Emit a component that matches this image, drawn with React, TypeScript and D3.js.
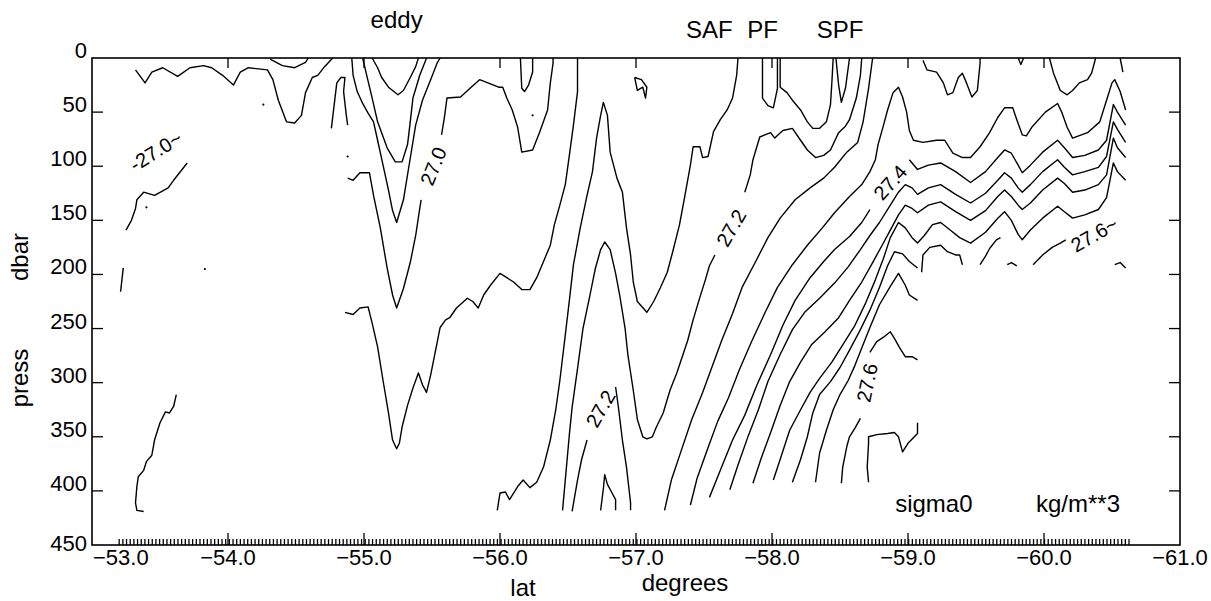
import React, { useEffect, useRef } from "react";
import * as d3 from "d3";

type Pt = [number, number]; // [lat, press]

const latTicks = [-53, -54, -55, -56, -57, -58, -59, -60, -61];
const pressTicks = [0, 50, 100, 150, 200, 250, 300, 350, 400, 450];

// --- contour polylines (lat, dbar) ---
const surfaceWest: Pt[] = [[-53.32,11],[-53.39,23],[-53.44,13],[-53.52,9],[-53.63,17],[-53.72,9],[-53.82,7],[-53.88,9],[-53.96,16],[-54.04,25],[-54.09,13],[-54.15,9],[-54.29,11],[-54.33,20],[-54.37,39],[-54.43,59],[-54.49,60],[-54.54,53],[-54.57,32],[-54.62,18],[-54.66,16],[-54.71,8],[-54.77,0]];
const surfaceDip: Pt[] = [[-54.31,1],[-54.40,7],[-54.49,9],[-54.57,4],[-54.59,0]];
const westSlope: Pt[] = [[-53.25,159],[-53.29,150],[-53.32,139],[-53.33,131],[-53.38,124],[-53.46,127],[-53.56,120],[-53.60,113],[-53.70,97]];
const westStub: Pt[] = [[-53.23,194],[-53.21,216]];
const westDeep: Pt[] = [[-53.62,311],[-53.60,322],[-53.57,328],[-53.54,327],[-53.50,337],[-53.46,353],[-53.44,367],[-53.40,373],[-53.38,381],[-53.34,387],[-53.33,396],[-53.32,411],[-53.33,418],[-53.38,419]];
const eddyEdge: Pt[] = [[-54.76,65],[-54.80,23],[-54.83,18],[-54.86,18],[-54.85,31],[-54.87,53],[-54.88,62]];

const eddy1: Pt[] = [[-55.06,0],[-55.10,9],[-55.13,18],[-55.18,27],[-55.25,34],[-55.29,30],[-55.34,18],[-55.38,8],[-55.40,0]];
const eddy2: Pt[] = [[-54.99,0],[-55.02,16],[-55.06,37],[-55.10,59],[-55.17,83],[-55.23,96],[-55.28,96],[-55.32,80],[-55.34,59],[-55.36,37],[-55.41,16],[-55.46,0]];
const eddy3: Pt[] = [[-54.91,0],[-54.92,16],[-54.95,31],[-54.99,42],[-55.03,51],[-55.07,59],[-55.10,76],[-55.14,99],[-55.18,122],[-55.21,141],[-55.24,152],[-55.29,131],[-55.32,108],[-55.35,85],[-55.38,62],[-55.43,39],[-55.49,20],[-55.54,4],[-55.56,0]];
const eddy4Low: Pt[] = [[-54.88,111],[-54.92,113],[-54.97,106],[-55.04,106],[-55.07,127],[-55.12,157],[-55.17,194],[-55.21,219],[-55.24,231],[-55.29,213],[-55.34,189],[-55.38,164],[-55.41,139],[-55.42,131]];
const eddy4High: Pt[] = [[-55.57,71],[-55.59,56],[-55.61,37],[-55.71,36],[-55.78,28],[-55.85,20],[-55.93,24],[-55.99,27],[-56.02,27],[-56.05,37],[-56.09,48],[-56.13,64],[-56.16,87],[-56.24,85],[-56.29,69],[-56.35,48],[-56.37,23],[-56.39,5],[-56.39,0]];
const eddy5: Pt[] = [[-54.86,235],[-54.92,237],[-54.97,231],[-55.03,230],[-55.06,245],[-55.10,267],[-55.14,298],[-55.18,328],[-55.21,353],[-55.24,361],[-55.26,356],[-55.28,341],[-55.32,321],[-55.36,305],[-55.40,291],[-55.43,302],[-55.46,309],[-55.49,293],[-55.52,274],[-55.56,249],[-55.60,242],[-55.63,240],[-55.68,231],[-55.76,222],[-55.80,225],[-55.84,231],[-55.88,219],[-55.93,210],[-56.00,199],[-56.05,203],[-56.10,207],[-56.16,214],[-56.22,214],[-56.27,203],[-56.32,188],[-56.37,173],[-56.40,154],[-56.44,136],[-56.48,117],[-56.51,90],[-56.54,62],[-56.57,31],[-56.57,0]];
const smallV: Pt[] = [[-56.15,0],[-56.16,28],[-56.18,31],[-56.21,25],[-56.24,13],[-56.24,0]];
const squiggle: Pt[] = [[-56.99,18],[-57.01,30],[-57.05,27],[-57.07,37],[-57.08,27],[-57.04,20],[-56.99,18]];

const arch1: Pt[] = [[-55.98,418],[-56.00,402],[-56.04,401],[-56.07,408],[-56.13,396],[-56.17,390],[-56.22,397],[-56.27,392],[-56.32,378],[-56.37,353],[-56.41,325],[-56.44,298],[-56.48,256],[-56.51,224],[-56.54,191],[-56.59,157],[-56.64,127],[-56.68,105],[-56.71,74],[-56.74,53],[-56.76,41],[-56.79,53],[-56.81,87],[-56.86,111],[-56.90,124],[-56.93,157],[-56.96,182],[-56.98,207],[-57.01,225],[-57.08,235],[-57.13,225],[-57.18,212],[-57.23,198],[-57.27,179],[-57.32,154],[-57.36,127],[-57.40,99],[-57.42,82],[-57.47,82],[-57.49,92],[-57.53,91],[-57.57,68],[-57.62,57],[-57.67,48],[-57.71,37],[-57.74,16],[-57.75,0]];
const arch2Low: Pt[] = [[-56.46,418],[-56.48,390],[-56.50,362],[-56.51,348],[-56.53,323],[-56.57,287],[-56.61,250],[-56.66,220],[-56.70,195],[-56.74,177],[-56.77,170],[-56.81,177],[-56.85,199],[-56.88,219],[-56.92,250],[-56.94,274],[-56.98,307],[-57.01,334],[-57.05,350],[-57.08,352],[-57.12,350],[-57.15,341],[-57.20,328],[-57.25,307],[-57.30,291],[-57.34,276],[-57.38,261],[-57.42,242],[-57.47,221],[-57.51,205],[-57.54,192],[-57.58,182]];
const arch2High: Pt[] = [[-57.80,124],[-57.84,108],[-57.86,94],[-57.91,73],[-57.99,69],[-58.02,74],[-58.08,67],[-58.15,65],[-58.21,76],[-58.26,85],[-58.32,92],[-58.38,90],[-58.43,85],[-58.49,69],[-58.54,63],[-58.57,57],[-58.62,37],[-58.65,16],[-58.66,0]];
const arch3West: Pt[] = [[-56.53,419],[-56.57,390],[-56.60,371],[-56.64,353]];
const arch3East: Pt[] = [[-56.85,304],[-56.87,322],[-56.90,353],[-56.93,378],[-56.96,411],[-56.96,418]];
const arch4: Pt[] = [[-56.74,418],[-56.76,398],[-56.77,385],[-56.79,394],[-56.82,401],[-56.85,408],[-56.85,418]];

const pfNotch: Pt[] = [[-57.93,0],[-57.93,37],[-57.97,44],[-58.01,46],[-58.04,28],[-58.04,0]];
const pfCap: Pt[] = [[-58.06,0],[-58.06,27],[-58.11,32],[-58.15,39],[-58.21,48],[-58.26,59],[-58.30,65],[-58.35,65],[-58.40,59],[-58.43,43],[-58.44,23],[-58.45,0]];
const pfNotch2: Pt[] = [[-58.47,0],[-58.49,25],[-58.51,41],[-58.54,28],[-58.57,0]];

const band1: Pt[] = [[-57.21,418],[-57.26,390],[-57.34,360],[-57.41,334],[-57.49,309],[-57.56,285],[-57.63,261],[-57.71,236],[-57.78,212],[-57.88,188],[-57.97,166],[-58.06,148],[-58.17,131],[-58.28,120],[-58.38,111],[-58.46,101],[-58.55,87],[-58.63,78],[-58.67,59],[-58.71,28],[-58.74,0]];
const band2: Pt[] = [[-57.40,413],[-57.45,388],[-57.53,360],[-57.60,336],[-57.68,314],[-57.76,288],[-57.85,262],[-57.95,235],[-58.04,212],[-58.15,191],[-58.26,173],[-58.37,157],[-58.46,143],[-58.57,128],[-58.66,117],[-58.72,105],[-58.76,94],[-58.78,80],[-58.82,62],[-58.85,48],[-58.89,32],[-58.93,27],[-58.96,36],[-58.99,50],[-59.01,67],[-59.04,76],[-59.11,78],[-59.21,76],[-59.27,76],[-59.33,88],[-59.40,92],[-59.46,92],[-59.53,82],[-59.60,69],[-59.66,55],[-59.71,46],[-59.77,46],[-59.80,57],[-59.84,71],[-59.87,72],[-59.91,64],[-60.01,50],[-60.10,42],[-60.13,50],[-60.17,64],[-60.21,74],[-60.32,69],[-60.41,59],[-60.46,39],[-60.50,23],[-60.52,20],[-60.56,31],[-60.60,48]];
const band3Low: Pt[] = [[-57.54,406],[-57.62,381],[-57.71,353],[-57.80,330],[-57.89,302],[-57.99,274],[-58.08,247],[-58.17,224],[-58.28,203],[-58.38,188],[-58.46,177],[-58.57,165],[-58.66,152],[-58.72,140]];
const band3High: Pt[] = [[-59.01,94],[-59.07,103],[-59.15,99],[-59.24,97],[-59.35,105],[-59.46,115],[-59.57,105],[-59.66,92],[-59.71,85],[-59.76,88],[-59.81,99],[-59.84,106],[-59.90,99],[-59.99,87],[-60.10,76],[-60.15,83],[-60.21,92],[-60.30,90],[-60.40,85],[-60.46,76],[-60.51,43],[-60.54,50],[-60.60,62]];
const band4: Pt[] = [[-57.69,399],[-57.75,376],[-57.82,351],[-57.90,325],[-57.97,299],[-58.06,274],[-58.15,251],[-58.24,235],[-58.35,222],[-58.46,208],[-58.56,193],[-58.65,177],[-58.72,164],[-58.79,152],[-58.87,136],[-58.93,124],[-58.98,117],[-59.03,120],[-59.07,126],[-59.15,120],[-59.24,117],[-59.35,126],[-59.46,134],[-59.57,125],[-59.66,113],[-59.71,106],[-59.76,111],[-59.81,120],[-59.84,124],[-59.90,117],[-59.99,105],[-60.10,94],[-60.15,101],[-60.21,108],[-60.30,105],[-60.40,101],[-60.46,91],[-60.51,59],[-60.54,66],[-60.60,78]];
const band5: Pt[] = [[-57.86,393],[-57.92,370],[-57.99,346],[-58.06,321],[-58.13,299],[-58.21,281],[-58.29,265],[-58.39,253],[-58.49,240],[-58.57,224],[-58.66,207],[-58.74,189],[-58.81,173],[-58.87,159],[-58.93,145],[-58.98,136],[-59.03,139],[-59.07,143],[-59.15,136],[-59.24,133],[-59.35,142],[-59.46,150],[-59.57,141],[-59.66,128],[-59.71,122],[-59.76,128],[-59.81,136],[-59.84,140],[-59.90,134],[-59.99,122],[-60.10,111],[-60.15,116],[-60.21,124],[-60.30,122],[-60.40,117],[-60.46,108],[-60.51,74],[-60.54,83],[-60.60,92]];
const band6: Pt[] = [[-58.01,390],[-58.07,367],[-58.13,344],[-58.21,325],[-58.28,309],[-58.35,296],[-58.44,281],[-58.52,265],[-58.61,247],[-58.69,226],[-58.76,205],[-58.82,185],[-58.87,166],[-58.93,152],[-58.98,157],[-59.03,166],[-59.07,171],[-59.12,164],[-59.18,154],[-59.24,152],[-59.31,159],[-59.38,166],[-59.46,171],[-59.57,161],[-59.66,148],[-59.71,142],[-59.76,150],[-59.81,163],[-59.84,168],[-59.90,159],[-59.99,148],[-60.10,137],[-60.15,142],[-60.21,148],[-60.30,145],[-60.40,140],[-60.46,129],[-60.51,97],[-60.54,105],[-60.60,113]];
const band7: Pt[] = [[-58.15,392],[-58.21,371],[-58.26,350],[-58.30,328],[-58.35,311],[-58.43,299],[-58.50,286],[-58.57,270],[-58.65,251],[-58.72,233],[-58.79,212],[-58.85,192],[-58.90,179],[-58.96,181],[-59.01,188],[-59.07,194]];
const band8: Pt[] = [[-58.32,392],[-58.35,365],[-58.40,344],[-58.45,325],[-58.50,311],[-58.56,298],[-58.61,284],[-58.66,268],[-58.72,249],[-58.79,228],[-58.87,211],[-58.93,199],[-58.98,210],[-59.01,219],[-59.07,224]];
const iso276Low: Pt[] = [[-58.51,393],[-58.52,378],[-58.55,359],[-58.57,350],[-58.61,342],[-58.65,333]];
const iso276High: Pt[] = [[-58.72,272],[-58.77,262],[-58.82,258],[-58.87,253],[-58.90,259],[-58.94,268],[-58.98,276],[-59.03,276],[-59.07,279]];
const deepStub: Pt[] = [[-58.71,392],[-58.70,378],[-58.71,356],[-58.71,350],[-58.77,348],[-58.85,347],[-58.90,346],[-58.93,350],[-58.96,364],[-59.00,356],[-59.07,347],[-59.07,337]];

const edge1: Pt[] = [[-59.10,198],[-59.11,182],[-59.16,175],[-59.24,173],[-59.29,179],[-59.35,182],[-59.38,182],[-59.40,191]];
const edge2: Pt[] = [[-59.53,191],[-59.57,183],[-59.60,176],[-59.65,168],[-59.68,166]];
const edge3: Pt[] = [[-59.73,191],[-59.76,189],[-59.80,192]];
const edge4: Pt[] = [[-59.92,191],[-59.99,182],[-60.06,175],[-60.12,171],[-60.16,168]];
const edge5: Pt[] = [[-60.52,191],[-60.56,189],[-60.60,194]];

const surfaceEast1: Pt[] = [[-59.11,2],[-59.14,11],[-59.21,13],[-59.26,23],[-59.29,34],[-59.33,32],[-59.37,18],[-59.40,14],[-59.43,23],[-59.47,36],[-59.51,30],[-59.53,5],[-59.53,0]];
const surfaceEast2: Pt[] = [[-59.81,0],[-59.83,6],[-59.85,0]];
const surfaceEast3: Pt[] = [[-60.04,0],[-60.07,14],[-60.12,30],[-60.17,34],[-60.21,30],[-60.26,23],[-60.32,20],[-60.35,14],[-60.38,0]];
const surfaceEast4: Pt[] = [[-60.56,0],[-60.58,13]];

// isolated single-point closures (the little dots)
const specks: Pt[] = [[-54.26,43],[-53.40,138],[-53.83,195],[-54.88,91],[-56.24,53]];

const contourLines: Pt[][] = [
  surfaceWest, surfaceDip, westSlope, westStub, westDeep, eddyEdge,
  eddy1, eddy2, eddy3, eddy4Low, eddy4High, eddy5, smallV, squiggle,
  arch1, arch2Low, arch2High, arch3West, arch3East, arch4,
  pfNotch, pfCap, pfNotch2,
  band1, band2, band3Low, band3High, band4, band5, band6, band7, band8,
  iso276Low, iso276High, deepStub,
  edge1, edge2, edge3, edge4, edge5,
  surfaceEast1, surfaceEast2, surfaceEast3, surfaceEast4,
];

const labelTexts = ["-27.0~", "27.0", "27.2", "27.2", "27.4", "27.6", "27.6~"];
const labelLats = [-53.47, -55.51, -56.74, -57.70, -58.87, -58.70, -60.37];
const labelPress = [86, 100, 324, 157, 115, 300, 163];

const frontNames = ["eddy", "SAF", "PF", "SPF"];
const frontLats = [-55.24, -57.54, -57.93, -58.50];

const FONT = "'Liberation Sans', Arial, Helvetica, sans-serif";

const App = () => {
  const ref = useRef<SVGSVGElement>(null);

  useEffect(() => {
    const svg = d3.select(ref.current);
    svg.selectAll("*").remove();

    const x = d3.scaleLinear().domain([-53, -61]).range([92, 1180]);
    const y = d3.scaleLinear().domain([0, 450]).range([58, 545]);
    const [x0, x1] = x.range();
    const [y0, y1] = y.range();

    svg.append("rect").attr("width", 1211).attr("height", 601).attr("fill", "#fff");

    // contours
    const line = d3.line<Pt>().x((d) => x(d[0])).y((d) => y(d[1]));
    svg.append("g")
      .selectAll("path")
      .data(contourLines)
      .enter()
      .append("path")
      .attr("d", line)
      .attr("fill", "none")
      .attr("stroke", "#000")
      .attr("stroke-width", 1.4)
      .attr("stroke-linejoin", "round");

    svg.append("g")
      .selectAll("circle")
      .data(specks)
      .enter()
      .append("circle")
      .attr("cx", (d) => x(d[0]))
      .attr("cy", (d) => y(d[1]))
      .attr("r", 1.1)
      .attr("fill", "#000");

    // contour labels
    const angles = [-32, -68, -60, -60, -48, -78, -30];
    svg.append("g")
      .selectAll("text")
      .data(labelTexts)
      .enter()
      .append("text")
      .attr("transform", (d, i) => `translate(${x(labelLats[i])},${y(labelPress[i])}) rotate(${angles[i]})`)
      .attr("text-anchor", "middle")
      .attr("dominant-baseline", "central")
      .attr("font-family", FONT)
      .attr("font-size", 20)
      .text((d) => d);

    // frame
    svg.append("rect")
      .attr("x", x0).attr("y", y0)
      .attr("width", x1 - x0).attr("height", y1 - y0)
      .attr("fill", "none").attr("stroke", "#000").attr("stroke-width", 1.6);

    const ax = svg.append("g").attr("stroke", "#000").attr("stroke-width", 1.3);
    // bottom minor ruler
    ax.selectAll("line.minor")
      .data(d3.range(-53.2, -60.64, -0.027))
      .enter().append("line")
      .attr("x1", (d) => x(d)).attr("x2", (d) => x(d))
      .attr("y1", y1).attr("y2", y1 - 6);
    // bottom major ticks
    ax.selectAll("line.major")
      .data(latTicks.slice(1, -1))
      .enter().append("line")
      .attr("x1", (d) => x(d)).attr("x2", (d) => x(d))
      .attr("y1", y1).attr("y2", y1 - 12);
    // top ticks
    ax.selectAll("line.top")
      .data(latTicks.slice(1, -1))
      .enter().append("line")
      .attr("x1", (d) => x(d)).attr("x2", (d) => x(d))
      .attr("y1", y0).attr("y2", y0 + 10);
    // left/right ticks
    const inner = pressTicks.slice(1, -1);
    ax.selectAll("line.left")
      .data(inner)
      .enter().append("line")
      .attr("x1", x0).attr("x2", x0 + 11)
      .attr("y1", (d) => y(d)).attr("y2", (d) => y(d));
    ax.selectAll("line.right")
      .data(inner)
      .enter().append("line")
      .attr("x1", x1).attr("x2", x1 - 11)
      .attr("y1", (d) => y(d)).attr("y2", (d) => y(d));

    // tick labels
    svg.append("g")
      .selectAll("text")
      .data(pressTicks)
      .enter().append("text")
      .attr("x", x0 - 5)
      .attr("y", (d, i) => y(d) + (i === pressTicks.length - 1 ? 6 : 0))
      .attr("text-anchor", "end")
      .attr("font-family", FONT)
      .attr("font-size", 22)
      .text((d) => d);

    svg.append("g")
      .selectAll("text")
      .data(latTicks)
      .enter().append("text")
      .attr("x", (d, i) => (i === 0 ? x(d) + 1 : x(d)))
      .attr("y", 565)
      .attr("text-anchor", (d, i) => (i === 0 ? "start" : "middle"))
      .attr("font-family", FONT)
      .attr("font-size", 22)
      .text((d) => "\u2212" + Math.abs(d).toFixed(1));

    // axis titles
    const t = (txt: string, px: number, py: number, size: number, rot = 0) =>
      svg.append("text")
        .attr("transform", `translate(${px},${py}) rotate(${rot})`)
        .attr("text-anchor", "middle")
        .attr("font-family", FONT)
        .attr("font-size", size)
        .text(txt);

    t("lat", 523, 596, 24);
    t("degrees", 685, 591, 24);
    t("press", 28, 378, 24, -90);
    t("dbar", 28, 257, 24, -90);
    t("sigma0", x(-59.19), 512, 24);
    t("kg/m**3", x(-60.25), 512, 24);

    svg.append("g")
      .selectAll("text")
      .data(frontNames)
      .enter().append("text")
      .attr("x", (d, i) => x(frontLats[i]))
      .attr("y", (d, i) => (i === 0 ? 28 : 38))
      .attr("text-anchor", "middle")
      .attr("font-family", FONT)
      .attr("font-size", 24)
      .text((d) => d);
  }, []);

  return (
    <svg
      ref={ref}
      width={1211}
      height={601}
      style={{ position: "absolute", left: 0, top: 0, display: "block" }}
    />
  );
};

export default App;
